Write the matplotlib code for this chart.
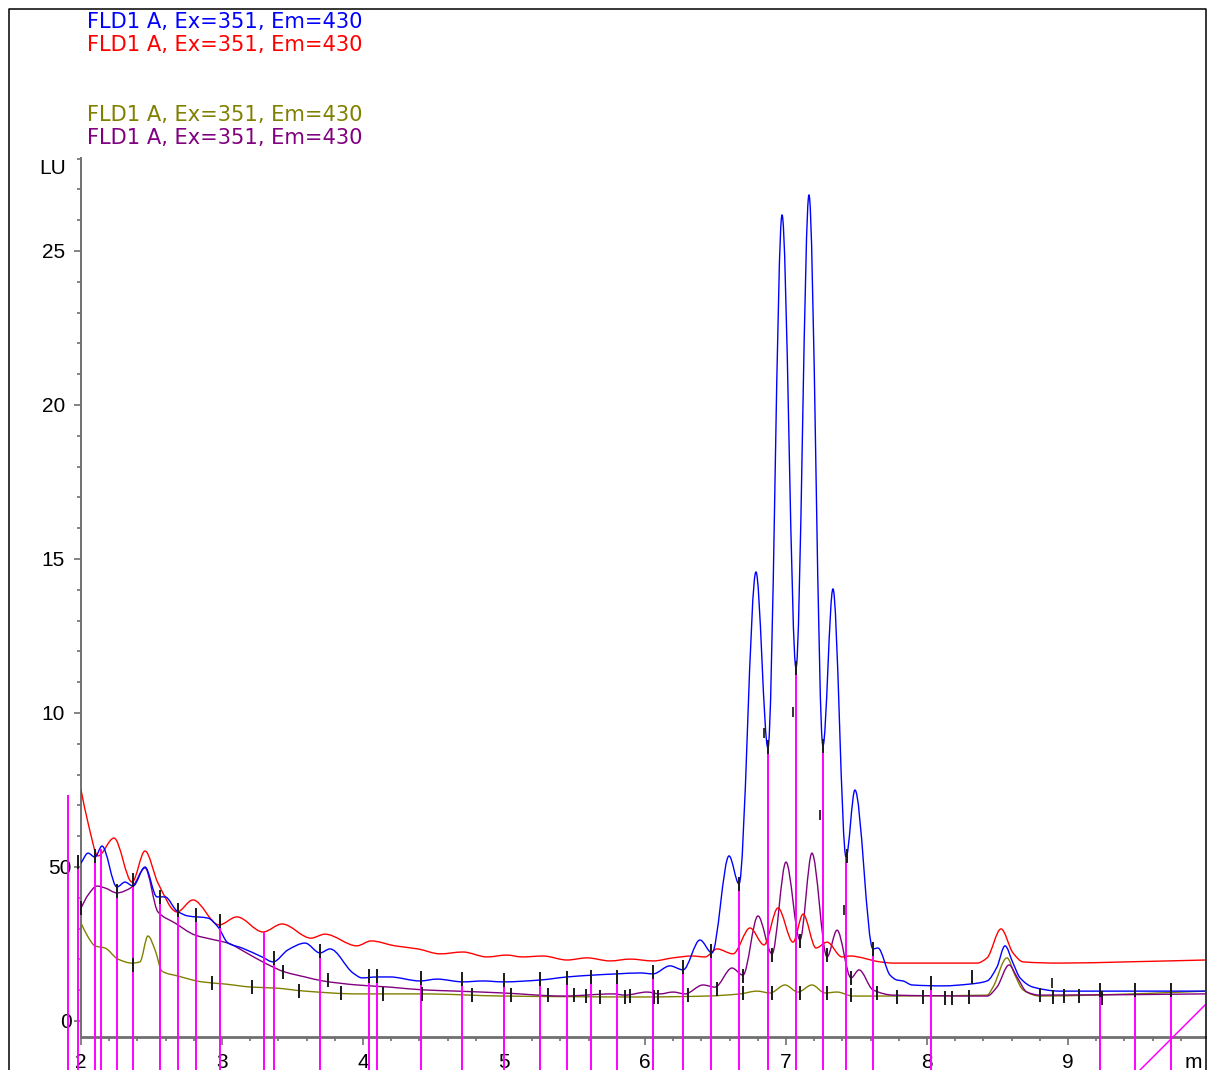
import numpy as np
import matplotlib
matplotlib.use("Agg")
import matplotlib.pyplot as plt
from matplotlib.path import Path
from matplotlib.patches import PathPatch
from matplotlib.lines import Line2D
import matplotlib.transforms as mtransforms

# ---------------- data (time in min, signal in LU) ----------------
legend_labels = ["FLD1 A, Ex=351, Em=430"] * 4
trace_colors = ["#0000ff", "#ff0000", "#808000", "#800080"]

red_t = [2.000, 2.050, 2.121, 2.234, 2.362, 2.454, 2.546, 2.681, 2.794, 2.979, 3.106, 3.291, 3.426,
         3.631, 3.730, 3.957, 4.057, 4.227, 4.390, 4.546, 4.709, 4.879, 5.021, 5.128, 5.277, 5.447,
         5.589, 5.752, 5.894, 6.057, 6.199, 6.333, 6.426, 6.511, 6.624, 6.745, 6.844, 6.943, 7.050,
         7.121, 7.213, 7.291, 7.397, 7.454, 7.667, 7.759, 8.355, 8.426, 8.525, 8.610, 8.681, 8.943,
         9.418, 9.972]
red_v = [7.50, 6.43, 5.36, 5.94, 4.51, 5.52, 4.48, 3.54, 3.93, 3.12, 3.38, 2.89, 3.15,
         2.69, 2.82, 2.44, 2.60, 2.44, 2.34, 2.18, 2.24, 2.08, 2.14, 2.08, 2.11, 1.98,
         2.05, 1.95, 2.01, 1.95, 2.05, 2.11, 2.08, 2.34, 2.18, 3.02, 2.47, 3.67, 2.56,
         3.47, 2.37, 2.56, 2.08, 2.11, 1.92, 1.88, 1.88, 2.05, 2.99, 2.21, 1.92, 1.88,
         1.92, 1.98]

blue_t = [2.000, 2.050, 2.099, 2.149, 2.255, 2.312, 2.369, 2.454, 2.539, 2.596, 2.681, 2.759, 2.901,
          2.972, 3.043, 3.142, 3.284, 3.362, 3.468, 3.589, 3.695, 3.766, 3.929, 3.993, 4.099, 4.191,
          4.404, 4.525, 4.709, 4.851, 4.993, 5.255, 5.447, 5.631, 5.801, 5.965, 6.057, 6.177, 6.270,
          6.390, 6.475, 6.596, 6.667, 6.787, 6.872, 6.972, 7.071, 7.163, 7.262, 7.333, 7.426, 7.489,
          7.617, 7.652, 7.738, 7.787, 7.830, 7.894, 8.113, 8.305, 8.426, 8.496, 8.553, 8.610, 8.660,
          8.752, 8.943, 9.972]
blue_v = [5.13, 5.45, 5.32, 5.68, 4.35, 4.51, 4.38, 5.00, 4.03, 4.03, 3.57, 3.41, 3.34,
          3.05, 2.53, 2.37, 2.08, 1.92, 2.31, 2.53, 2.21, 2.34, 1.56, 1.40, 1.43, 1.43,
          1.30, 1.36, 1.27, 1.30, 1.27, 1.33, 1.43, 1.49, 1.53, 1.56, 1.53, 1.79, 1.66,
          2.63, 2.21, 5.36, 4.45, 14.58, 8.86, 26.17, 11.46, 26.82, 8.93, 14.03, 5.32, 7.50,
          2.34, 2.37, 1.49, 1.33, 1.30, 1.17, 1.14, 1.20, 1.30, 1.75, 2.44, 1.88, 1.40,
          1.10, 0.97, 0.97]

olive_t = [2.000, 2.050, 2.099, 2.170, 2.262, 2.362, 2.418, 2.475, 2.525, 2.574, 2.688, 2.858, 3.021,
           3.213, 3.376, 3.589, 3.957, 4.426, 4.993, 5.965, 6.440, 6.674, 6.794, 6.887, 6.993, 7.085,
           7.184, 7.277, 7.362, 7.475, 8.426, 8.468, 8.567, 8.624, 8.681, 8.801, 9.177, 9.972]
olive_v = [3.18, 2.73, 2.44, 2.37, 2.01, 1.88, 1.92, 2.76, 2.31, 1.62, 1.46, 1.27, 1.20,
           1.10, 1.07, 0.97, 0.88, 0.88, 0.81, 0.78, 0.81, 0.88, 0.97, 0.91, 1.17, 0.94,
           1.17, 0.91, 0.94, 0.81, 0.84, 1.10, 2.05, 1.49, 1.01, 0.81, 0.84, 0.97]

purple_t = [2.000, 2.050, 2.113, 2.170, 2.255, 2.362, 2.454, 2.546, 2.667, 2.809, 2.950, 3.043, 3.163,
            3.305, 3.447, 3.589, 3.716, 3.957, 4.191, 4.426, 4.667, 4.993, 5.418, 5.773, 5.858, 6.014,
            6.106, 6.199, 6.284, 6.411, 6.496, 6.617, 6.695, 6.801, 6.901, 7.000, 7.099, 7.184, 7.291,
            7.362, 7.461, 7.518, 7.617, 7.759, 8.426, 8.496, 8.582, 8.638, 8.709, 8.801, 9.972]
purple_v = [3.67, 4.09, 4.38, 4.32, 4.16, 4.35, 4.97, 3.54, 3.18, 2.79, 2.63, 2.53, 2.24,
            1.88, 1.59, 1.43, 1.30, 1.17, 1.10, 1.01, 0.97, 0.91, 0.81, 0.88, 0.84, 0.94,
            0.88, 0.94, 0.88, 1.17, 1.10, 1.72, 1.49, 3.41, 2.18, 5.16, 2.63, 5.45, 2.08,
            2.95, 1.40, 1.66, 1.01, 0.84, 0.81, 1.10, 1.82, 1.43, 0.94, 0.84, 0.88]

# integration event lines: time and starting signal
event_t = [1.908, 1.979, 2.099, 2.142, 2.255, 2.369, 2.560, 2.688, 2.816, 2.986, 3.298, 3.369,
           3.695, 4.043, 4.099, 4.411, 4.702, 5.000, 5.255, 5.447, 5.617, 5.801, 6.057, 6.270,
           6.468, 6.667, 6.872, 7.071, 7.262, 7.426, 7.617, 8.028, 9.227, 9.475, 9.730]
event_v = [7.34, 5.10, 5.45, 5.58, 4.35, 4.58, 4.09, 3.60, 3.44, 3.25, 2.89, 1.95,
           2.24, 1.43, 1.43, 1.33, 1.27, 1.27, 1.36, 1.40, 1.46, 1.49, 1.56, 1.66,
           2.21, 4.45, 8.86, 11.46, 8.93, 5.32, 2.37, 1.17, 1.01, 1.01, 1.01]
ramp_t = [9.511, 9.972]
ramp_v = [-1.59, 0.52]

# baseline marks
mark_t = [1.979, 2.000, 2.099, 2.255, 2.369, 2.369, 2.560, 2.688, 2.816, 2.929, 2.986, 3.213,
          3.369, 3.433, 3.546, 3.695, 3.752, 3.844, 4.043, 4.099, 4.142, 4.411, 4.418, 4.702,
          4.773, 5.000, 5.050, 5.255, 5.312, 5.447, 5.496, 5.582, 5.617, 5.681, 5.801, 5.858,
          5.894, 6.057, 6.064, 6.092, 6.270, 6.305, 6.468, 6.511, 6.667, 6.695, 6.695, 6.872,
          6.901, 6.901, 7.071, 7.099, 7.099, 7.262, 7.291, 7.291, 7.433, 7.461, 7.461, 7.617,
          7.645, 7.787, 7.972, 8.028, 8.128, 8.177, 8.298, 8.319, 8.801, 8.894, 8.972, 9.078,
          9.227, 9.241, 9.475, 9.730]
mark_v = [5.16, 3.67, 5.36, 4.22, 4.58, 1.82, 4.03, 3.60, 3.44, 1.23, 3.25, 1.10,
          2.05, 1.59, 0.97, 2.27, 1.33, 0.91, 1.46, 1.46, 0.88, 1.40, 0.88, 1.36,
          0.84, 1.33, 0.84, 1.36, 0.84, 1.40, 0.84, 0.81, 1.43, 0.78, 1.43, 0.78,
          0.81, 1.59, 0.78, 0.78, 1.75, 0.84, 2.27, 1.04, 4.45, 1.46, 0.91, 8.90,
          2.14, 0.91, 11.46, 2.60, 0.91, 8.93, 2.14, 0.91, 5.36, 1.40, 0.84, 2.34,
          0.91, 0.78, 0.78, 1.23, 0.75, 0.75, 0.78, 1.43, 0.84, 0.78, 0.81, 0.81,
          1.01, 0.75, 1.01, 1.01]
small_mark_t = [6.844, 7.050, 7.241, 7.411, 8.887]
small_mark_v = [9.35, 10.03, 6.69, 3.60, 1.23]

ytick_vals = [0, 5, 10, 15, 20, 25]
ytick_labels = ["0", "50", "10", "15", "20", "25"]
xtick_vals = [2, 3, 4, 5, 6, 7, 8, 9]
xtick_labels = ["2", "3", "4", "5", "6", "7", "8", "9"]
x_unit_label = "m"
y_unit_label = "LU"

# ---------------- figure ----------------
W, H = 1207, 1070
fig = plt.figure(figsize=(W / 100, H / 100), dpi=100)
fig.patch.set_facecolor("white")

ax_left, ax_right, ax_top, ax_bottom = 80.5, 1205.0, 158.0, 1037.0
ax = fig.add_axes([ax_left / W, (H - ax_bottom) / H, (ax_right - ax_left) / W, (ax_bottom - ax_top) / H])
ax.set_xlim(1.99645, 9.97163)
ax.set_ylim(-0.5195, 28.019)
ax.set_facecolor("none")


def hermite_path(t, v):
    t = np.asarray(t, float)
    v = np.asarray(v, float)
    h = np.diff(t)
    d = np.diff(v) / h
    n = len(t)
    m = np.zeros(n)
    for i in range(1, n - 1):
        if d[i - 1] * d[i] > 0:
            w1 = 2 * h[i] + h[i - 1]
            w2 = h[i] + 2 * h[i - 1]
            m[i] = (w1 + w2) / (w1 / d[i - 1] + w2 / d[i])
    m[0] = d[0]
    m[-1] = d[-1]
    verts = [(t[0], v[0])]
    codes = [Path.MOVETO]
    for i in range(n - 1):
        verts.append((t[i] + h[i] / 3, v[i] + m[i] * h[i] / 3))
        verts.append((t[i + 1] - h[i] / 3, v[i + 1] - m[i + 1] * h[i] / 3))
        verts.append((t[i + 1], v[i + 1]))
        codes += [Path.CURVE4] * 3
    return Path(verts, codes)


series = [(olive_t, olive_v, trace_colors[2]),
          (purple_t, purple_v, trace_colors[3]),
          (red_t, red_v, trace_colors[1]),
          (blue_t, blue_v, trace_colors[0])]
for t, v, c in series:
    ax.add_patch(PathPatch(hermite_path(t, v), fill=False, edgecolor=c, lw=1.0,
                           capstyle="round", joinstyle="round", zorder=3))

# event lines going down off the figure
ax.vlines(event_t, -1.75, event_v, colors="#ff00ff", lw=1.4, zorder=4, clip_on=False)
ax.plot(ramp_t, ramp_v, color="#ff00ff", lw=1.1, zorder=4, clip_on=False)

# baseline marks
ax.plot(mark_t, mark_v, ls="none", marker="|", ms=9.5, mew=1.4, color="#1a1a1a", zorder=5, clip_on=False)
ax.plot(small_mark_t, small_mark_v, ls="none", marker="|", ms=6.5, mew=1.4, color="#333333", zorder=5)

# axes styling
axis_gray = "#707070"
for s in ["top", "right"]:
    ax.spines[s].set_visible(False)
ax.spines["left"].set_color(axis_gray)
ax.spines["left"].set_linewidth(1.4)
ax.spines["bottom"].set_color(axis_gray)
ax.spines["bottom"].set_linewidth(2.0)

ax.set_xticks(xtick_vals)
ax.set_xticklabels(xtick_labels)
ax.set_xticks(np.arange(2.2, 9.9, 0.2), minor=True)
ax.set_yticks(ytick_vals)
ax.set_yticks([v for v in range(0, 29) if v % 5 != 0], minor=True)
ax.tick_params(axis="x", which="major", direction="out", length=6, width=1.2, color=axis_gray,
               pad=5.5, labelsize=15)
ax.tick_params(axis="x", which="minor", direction="out", length=3.2, width=1.2, color=axis_gray)
ax.tick_params(axis="y", which="major", direction="out", length=5, width=1.2, color=axis_gray,
               labelleft=False)
ax.tick_params(axis="y", which="minor", direction="out", length=3, width=1.2, color=axis_gray)
for lab in ax.get_xticklabels():
    lab.set_fontfamily("Liberation Sans")

# y tick labels (placed individually as in the original)
ylab_right_px = [72, 72, 65, 65, 65, 65]
ytrans = mtransforms.blended_transform_factory(fig.transFigure, ax.transData)
for val, lab, rp in zip(ytick_vals, ytick_labels, ylab_right_px):
    ax.text(rp / W, val, lab, transform=ytrans, ha="right", va="center_baseline",
            fontsize=15, family="Liberation Sans", color="black", clip_on=False)

# unit labels
xtrans = mtransforms.blended_transform_factory(ax.transData, fig.transFigure)
ax.text(9.887, 1 - 1053 / H, x_unit_label, transform=xtrans, ha="center", va="top",
        fontsize=15, family="Liberation Sans", clip_on=False)
fig.text(39 / W, 1 - 174 / H, y_unit_label, ha="left", va="baseline", fontsize=15,
         family="Liberation Sans")

# legend lines
legend_baselines = [28, 51, 121, 144]
legend_colors = [trace_colors[0], trace_colors[1], trace_colors[2], trace_colors[3]]
for lab, c, b in zip(legend_labels, legend_colors, legend_baselines):
    fig.text(87 / W, 1 - b / H, lab, color=c, ha="left", va="baseline", fontsize=15.1,
             family="DejaVu Sans")

# outer frame
fig.add_artist(Line2D([9 / W, 9 / W, 1205.5 / W, 1205.5 / W], [0, 1 - 9 / H, 1 - 9 / H, 0],
                      transform=fig.transFigure, color="black", lw=1.1))

fig.savefig("out.png", dpi=100, facecolor="white")
